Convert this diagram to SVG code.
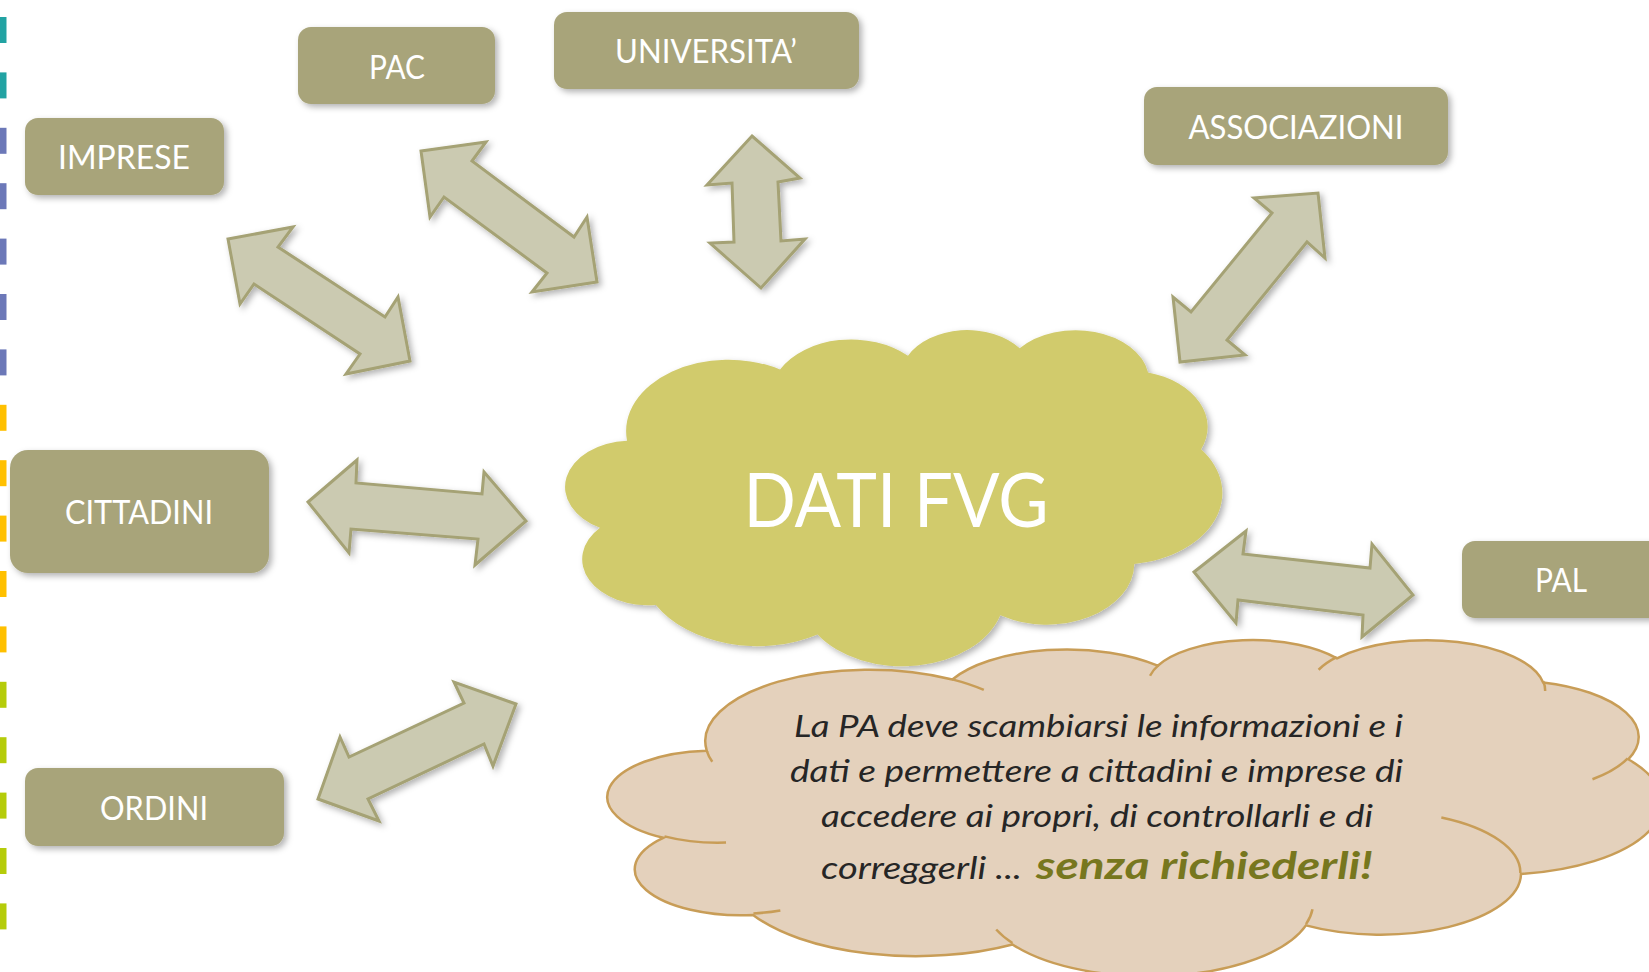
<svg xmlns="http://www.w3.org/2000/svg" width="1649" height="972" viewBox="0 0 1649 972">
<style>
.box{fill:#A8A47A}
.lbl{font-family:Lato,"Liberation Sans",sans-serif;font-size:33px;fill:#FFFFFF;text-anchor:middle}
.arr{fill:#CBCAB1;stroke:#A5A274;stroke-width:3;stroke-linejoin:miter}
.body{font-family:Lato,"Liberation Sans",sans-serif;font-style:italic;font-size:30px;fill:#262626}
.cl{vector-effect:non-scaling-stroke}
</style>
<defs>
<filter id="sh" x="-20%" y="-20%" width="140%" height="140%">
<feDropShadow dx="3" dy="3" stdDeviation="3" flood-color="#000" flood-opacity="0.3"/>
</filter>
</defs>
<rect width="1649" height="972" fill="#FFFFFF"/>
<g id="strips">
<rect x="0" y="17" width="6.5" height="26" fill="#22A3A3"/>
<rect x="0" y="72.4" width="6.5" height="26" fill="#22A3A3"/>
<rect x="0" y="127.8" width="6.5" height="26" fill="#6C78B8"/>
<rect x="0" y="183.2" width="6.5" height="26" fill="#6C78B8"/>
<rect x="0" y="238.6" width="6.5" height="26" fill="#6C78B8"/>
<rect x="0" y="294" width="6.5" height="26" fill="#6C78B8"/>
<rect x="0" y="349.4" width="6.5" height="26" fill="#6C78B8"/>
<rect x="0" y="404.8" width="6.5" height="26" fill="#FFC000"/>
<rect x="0" y="460.2" width="6.5" height="26" fill="#FFC000"/>
<rect x="0" y="515.6" width="6.5" height="26" fill="#FFC000"/>
<rect x="0" y="571" width="6.5" height="26" fill="#FFC000"/>
<rect x="0" y="626.4" width="6.5" height="26" fill="#FFC000"/>
<rect x="0" y="681.8" width="6.5" height="26" fill="#B5CC0A"/>
<rect x="0" y="737.2" width="6.5" height="26" fill="#B5CC0A"/>
<rect x="0" y="792.6" width="6.5" height="26" fill="#B5CC0A"/>
<rect x="0" y="848" width="6.5" height="26" fill="#B5CC0A"/>
<rect x="0" y="903.4" width="6.5" height="26" fill="#B5CC0A"/>
</g>
<g id="connectors" filter="url(#sh)">
<polygon class="arr" points="228,239 293,227 278,247 385,317 398,297 410,361 346,374 360,354 254,284 240,304"/>
<polygon class="arr" points="421,151 486,142 472,161 574,237 587,217 597,282 532,292 547,273 444,197 430,217"/>
<polygon class="arr" points="752,136 800,178 778,182 781,241 805,239 761,288 710,243 734,242 732,183 707,185"/>
<polygon class="arr" points="1318,193 1325,258 1307,242 1227,340 1245,355 1180,362 1173,297 1191,312 1272,213 1254,198"/>
<polygon class="arr" points="308,502 357,460 356,483 482,494 484,472 526,521 475,565 478,539 351,529 349,553"/>
<polygon class="arr" points="318,799 340,737 349,757 464,703 454,682 516,704 493,766 484,744 368,799 379,821"/>
<polygon class="arr" points="1194,572 1246,531 1243,554 1370,568 1372,544 1413,595 1362,637 1363,615 1238,600 1236,623"/>
</g>
<g id="n-imprese">
<rect class="box" x="25" y="118" width="199" height="77" rx="13" filter="url(#sh)"/>
<text class="lbl" x="124" y="169" textLength="132" lengthAdjust="spacingAndGlyphs">IMPRESE</text>
</g>
<g id="n-pac">
<rect class="box" x="298" y="27" width="197" height="77" rx="13" filter="url(#sh)"/>
<text class="lbl" x="397" y="79" textLength="56" lengthAdjust="spacingAndGlyphs">PAC</text>
</g>
<g id="n-universita">
<rect class="box" x="554" y="12" width="305" height="77" rx="13" filter="url(#sh)"/>
<text class="lbl" x="706" y="63" textLength="182" lengthAdjust="spacingAndGlyphs">UNIVERSITA’</text>
</g>
<g id="n-associazioni">
<rect class="box" x="1144" y="87" width="304" height="78" rx="13" filter="url(#sh)"/>
<text class="lbl" x="1296" y="139" textLength="215" lengthAdjust="spacingAndGlyphs">ASSOCIAZIONI</text>
</g>
<g id="n-cittadini">
<rect class="box" x="10" y="450" width="259" height="123" rx="18" filter="url(#sh)"/>
<text class="lbl" x="139" y="524" textLength="148" lengthAdjust="spacingAndGlyphs">CITTADINI</text>
</g>
<g id="n-ordini">
<rect class="box" x="25" y="768" width="259" height="78" rx="13" filter="url(#sh)"/>
<text class="lbl" x="154" y="820" textLength="108" lengthAdjust="spacingAndGlyphs">ORDINI</text>
</g>
<g id="n-pal">
<rect class="box" x="1462" y="541" width="210" height="77" rx="13" filter="url(#sh)"/>
<text class="lbl" x="1561" y="592" textLength="52" lengthAdjust="spacingAndGlyphs">PAL</text>
</g>
<g id="n-dati-fvg">
<g filter="url(#sh)">
<path transform="translate(568,329) scale(0.015139,0.0077778)" fill="#D1CB6C" d="M3900,14370 A6753,9190 0 0 1 14006,5203 A5333,7267 0 0 1 22458,3435 A4365,5945 0 0 1 29835,2484 A4857,6595 0 0 1 38319,5581 A5333,7273 0 0 1 41820,15465 A6775,9220 0 0 1 37407,30209 A5785,7867 0 0 1 28558,36819 A6752,9215 0 0 1 16482,39270 A7720,10543 0 0 1 5805,35474 A4360,5918 0 0 1 2112,25555 A4345,5945 0 0 1 3900,14370 Z"/>
</g>
<text x="896" y="527" font-family="Lato,'Liberation Sans',sans-serif" font-size="76" fill="#FFFFFF" text-anchor="middle" textLength="305" lengthAdjust="spacingAndGlyphs">DATI FVG</text>
</g>
<g id="n-nota">
<g transform="translate(612,639) scale(0.0243,0.0077778)">
<path class="cl" fill="#E4D1BC" stroke="#C89D57" stroke-width="2.5" vector-effect="non-scaling-stroke" d="M3900,14370 A6753,9190 0 0 1 14006,5203 A5333,7267 0 0 1 22458,3435 A4365,5945 0 0 1 29835,2484 A4857,6595 0 0 1 38319,5581 A5333,7273 0 0 1 41820,15465 A6775,9220 0 0 1 37407,30209 A5785,7867 0 0 1 28558,36819 A6752,9215 0 0 1 16482,39270 A7720,10543 0 0 1 5805,35474 A4360,5918 0 0 1 2112,25555 A4345,5945 0 0 1 3900,14370 Z"/>
<path class="cl" fill="none" stroke="#C89D57" stroke-width="2.5" vector-effect="non-scaling-stroke" d="M4693,26177 A4345,5945 0 0 1 2160,25380 M6928,34899 A4360,5918 0 0 1 5819,35281 M16478,39090 A6752,9215 0 0 1 15811,37350 M28827,34751 A6752,9215 0 0 1 28561,36659 M34129,22954 A5785,7867 0 0 1 37381,30090 M41798,15354 A5333,7273 0 0 1 40349,18031 M38324,5426 A4857,6595 0 0 1 38400,6690 M29078,3952 A4857,6595 0 0 1 29820,2340 M22141,4720 A4365,5945 0 0 1 22500,3329 M14000,5192 A6753,9190 0 0 1 15301,6543 M4127,15789 A6753,9190 0 0 1 3900,14370"/>
</g>
<text class="body" x="794" y="737" textLength="609" lengthAdjust="spacingAndGlyphs">La PA deve scambiarsi le informazioni e i</text>
<text class="body" x="790" y="782" textLength="613" lengthAdjust="spacingAndGlyphs">dati e permettere a cittadini e imprese di</text>
<text class="body" x="821" y="827" textLength="552" lengthAdjust="spacingAndGlyphs">accedere ai propri, di controllarli e di</text>
<text class="body" x="821" y="879" textLength="201" lengthAdjust="spacingAndGlyphs">correggerli ...</text>
<text x="1036" y="879" font-family="Lato,'Liberation Sans',sans-serif" font-style="italic" font-weight="bold" font-size="38" fill="#77771E" textLength="337" lengthAdjust="spacingAndGlyphs">senza richiederli!</text>
</g>
</svg>
